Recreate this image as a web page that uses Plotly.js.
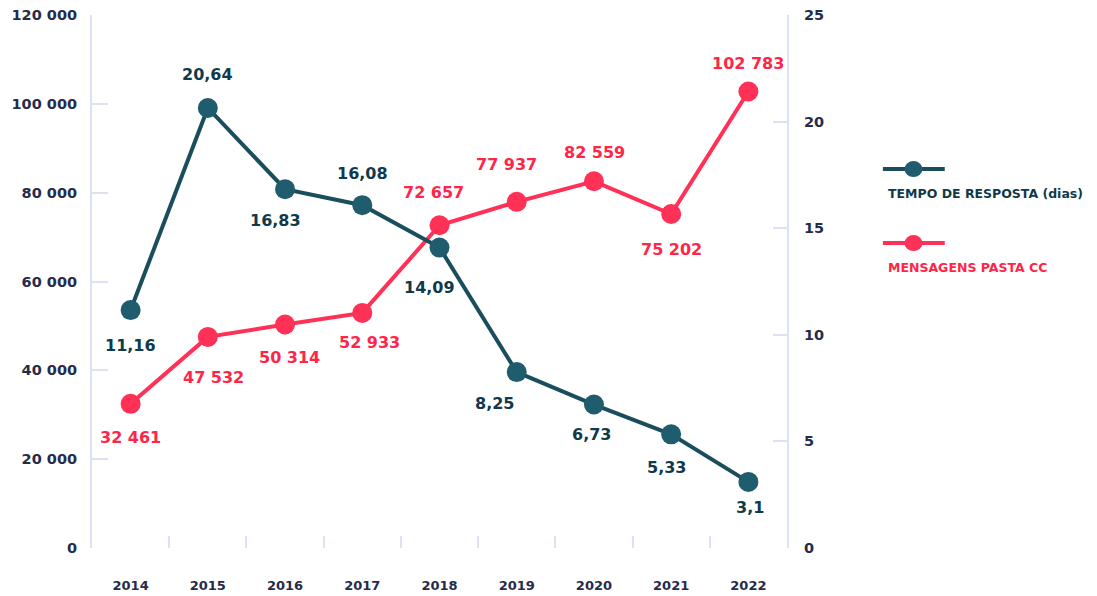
<!DOCTYPE html>
<html>
<head>
<meta charset="utf-8">
<script src="https://cdn.plot.ly/plotly-3.0.1.min.js"></script>
<style>
  html, body { margin: 0; padding: 0; background: #ffffff; }
  #chart { width: 1097px; height: 596px; }
</style>
</head>
<body>
<div id="chart"></div>
<script>
// ---- data ----
const years = ['2014', '2015', '2016', '2017', '2018', '2019', '2020', '2021', '2022'];
const tempoResposta = [11.16, 20.64, 16.83, 16.08, 14.09, 8.25, 6.73, 5.33, 3.1];
const mensagensCC = [32461, 47532, 50314, 52933, 72657, 77937, 82559, 75202, 102783];
const leftTicks = [0, 20000, 40000, 60000, 80000, 100000, 120000];
const rightTicks = [0, 5, 10, 15, 20, 25];
const seriesNames = ['TEMPO DE RESPOSTA (dias)', 'MENSAGENS PASTA CC'];

// ---- label placement (pixel offsets from each marker) ----
const tealDx = [0, 0, -10, 0, -10, -22, -2, -5, 2];
const tealDy = [-35, 33, -31, 32, -40, -31, -30, -33, -26];
const redDx = [0, 6, 4, 7, -6, -10, 1, 0, 0];
const redDy = [-34, -41, -33, -30, 33, 37, 29, -36, 28];

// ---- styles ----
const TEAL_LINE = '#1b4e5d';
const TEAL_DOT = '#1f5c6d';
const TEAL_TEXT = '#0e3a4a';
const RED = '#ff3157';
const RED_TEXT = '#ff2548';
const AXIS = '#dde1f5';
const TICKTXT = '#262b4c';
const FONT = 'DejaVu Sans, sans-serif';

const fmtDec = v => String(v).replace('.', ',');
const fmtThou = v => String(v).replace(/\B(?=(\d{3})+(?!\d))/g, ' ');

const traces = [
  {
    x: years, y: mensagensCC, yaxis: 'y', type: 'scatter', mode: 'lines+markers',
    name: seriesNames[1],
    line: { color: RED, width: 4 },
    marker: { color: RED, size: 20 },
    hoverinfo: 'skip', showlegend: false
  },
  {
    x: years, y: tempoResposta, yaxis: 'y2', type: 'scatter', mode: 'lines+markers',
    name: seriesNames[0],
    line: { color: TEAL_LINE, width: 4 },
    marker: { color: TEAL_DOT, size: 20 },
    hoverinfo: 'skip', showlegend: false
  }
];

const annotations = [];
years.forEach((yr, i) => {
  annotations.push({
    x: i, y: tempoResposta[i], xref: 'x', yref: 'y2',
    text: fmtDec(tempoResposta[i]), showarrow: false,
    xanchor: 'center', yanchor: 'middle',
    xshift: tealDx[i], yshift: tealDy[i],
    font: { family: FONT, size: 16, color: TEAL_TEXT, weight: 700 }
  });
  annotations.push({
    x: i, y: mensagensCC[i], xref: 'x', yref: 'y',
    text: fmtThou(mensagensCC[i]), showarrow: false,
    xanchor: 'center', yanchor: 'middle',
    xshift: redDx[i], yshift: redDy[i],
    font: { family: FONT, size: 16, color: RED_TEXT, weight: 700 }
  });
});

// legend (custom, symbol above text)
const legendX = 1.182, legendTextX = 1.143;
const legendRows = [
  { name: seriesNames[0], lineColor: TEAL_LINE, dot: TEAL_DOT, txt: TEAL_TEXT, ySym: 0.711, yTxt: 0.666 },
  { name: seriesNames[1], lineColor: RED, dot: RED, txt: RED_TEXT, ySym: 0.572, yTxt: 0.527 }
];
const shapes = [];
legendRows.forEach(r => {
  shapes.push({
    type: 'line', xref: 'paper', yref: 'paper',
    x0: 1.138, x1: 1.227, y0: r.ySym, y1: r.ySym,
    line: { color: r.lineColor, width: 4 }
  });
  shapes.push({
    type: 'circle', xref: 'paper', yref: 'paper',
    xsizemode: 'pixel', ysizemode: 'pixel', xanchor: legendX, yanchor: r.ySym,
    x0: -9, x1: 9, y0: -8, y1: 8,
    fillcolor: r.dot, line: { color: r.dot, width: 0 }
  });
  annotations.push({
    xref: 'paper', yref: 'paper', x: legendTextX, y: r.yTxt,
    xanchor: 'left', yanchor: 'middle', showarrow: false,
    text: r.name,
    font: { family: FONT, size: 12.5, color: r.txt, weight: 700 }
  });
});

const layout = {
  width: 1097, height: 596,
  margin: { l: 92, r: 310, t: 15, b: 48 },
  paper_bgcolor: '#ffffff', plot_bgcolor: '#ffffff',
  separators: ', ',
  showlegend: false,
  xaxis: {
    type: 'category', range: [-0.5, 8.5],
    showline: false, showgrid: false, zeroline: false,
    ticks: 'inside', tickson: 'boundaries', ticklen: 12, tickwidth: 2, tickcolor: AXIS,
    tickfont: { family: FONT, size: 13, color: TICKTXT, weight: 700 },
    ticklabelstandoff: 28, automargin: false
  },
  yaxis: {
    range: [0, 120000], tickvals: leftTicks, tickformat: ',d',
    showline: true, linecolor: AXIS, linewidth: 2,
    showgrid: false, zeroline: false,
    ticks: 'inside', ticklen: 16, tickwidth: 2, tickcolor: AXIS,
    tickfont: { family: FONT, size: 14.5, color: TICKTXT, weight: 700 },
    ticklabelstandoff: 10, automargin: false
  },
  yaxis2: {
    range: [0, 25], tickvals: rightTicks, overlaying: 'y', side: 'right',
    showline: true, linecolor: AXIS, linewidth: 2,
    showgrid: false, zeroline: false,
    ticks: 'inside', ticklen: 14, tickwidth: 2, tickcolor: AXIS,
    tickfont: { family: FONT, size: 14.5, color: TICKTXT, weight: 700 },
    ticklabelstandoff: 12, automargin: false
  },
  shapes: shapes,
  annotations: annotations
};

Plotly.newPlot('chart', traces, layout, { staticPlot: true, displayModeBar: false });
</script>
</body>
</html>
